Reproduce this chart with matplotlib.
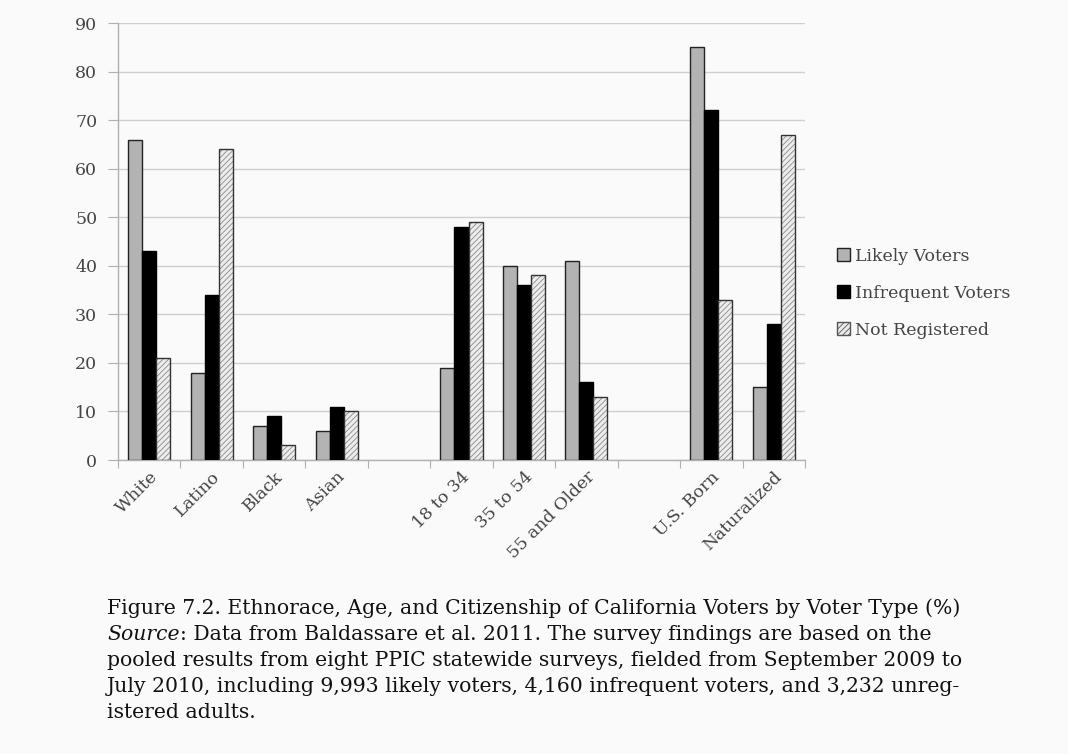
import matplotlib
matplotlib.use("Agg")
import matplotlib.pyplot as plt
import numpy as np
from matplotlib.patches import Patch

categories = ["White", "Latino", "Black", "Asian", "", "18 to 34", "35 to 54",
              "55 and Older", "", "U.S. Born", "Naturalized"]
likely = [66, 18, 7, 6, np.nan, 19, 40, 41, np.nan, 85, 15]
infrequent = [43, 34, 9, 11, np.nan, 48, 36, 16, np.nan, 72, 28]
not_registered = [21, 64, 3, 10, np.nan, 49, 38, 13, np.nan, 33, 67]
series_names = ["Likely Voters", "Infrequent Voters", "Not Registered"]
y_ticks = list(range(0, 91, 10))

caption_first = "Figure 7.2. Ethnorace, Age, and Citizenship of California Voters by Voter Type (%)"
caption_source_word = "Source"
caption_source_rest = ": Data from Baldassare et al. 2011. The survey findings are based on the"
caption_rest = [
    "pooled results from eight PPIC statewide surveys, fielded from September 2009 to",
    "July 2010, including 9,993 likely voters, 4,160 infrequent voters, and 3,232 unreg-",
    "istered adults.",
]

plt.rcParams['font.family'] = ['DejaVu Serif']
plt.rcParams['hatch.linewidth'] = 0.6

bg = '#fafafa'
fig = plt.figure(figsize=(10.68, 7.54), dpi=100, facecolor=bg)
ax = fig.add_axes([118/1068, 1 - 460/754, (805-118)/1068, (460-23)/754])
ax.set_facecolor(bg)

x = np.arange(len(categories))
w = 0.225
ax.bar(x - w, likely, w, color='#b3b3b3', edgecolor='#222222', linewidth=1.0, zorder=3)
ax.bar(x, infrequent, w, color='#000000', edgecolor='#000000', linewidth=1.0, zorder=3)
ax.bar(x + w, not_registered, w, color='#ececec', edgecolor='#8a8a8a', linewidth=0,
       hatch='//////', zorder=3)
ax.bar(x + w, not_registered, w, facecolor='none', edgecolor='#333333', linewidth=1.0,
       zorder=4)

ax.set_xlim(-0.5, len(categories) - 0.5)
ax.set_ylim(0, 90)
ax.set_yticks(y_ticks)
ax.set_yticklabels([str(v) for v in y_ticks], fontsize=12.5, color='#444444')
ax.grid(axis='y', color='#cfcfcf', linewidth=1.0, zorder=0)
ax.set_axisbelow(True)

for s in ['top', 'right']:
    ax.spines[s].set_visible(False)
for s in ['left', 'bottom']:
    ax.spines[s].set_color('#b0b0b0')
    ax.spines[s].set_linewidth(1.0)

ax.tick_params(axis='y', direction='out', length=7, color='#b0b0b0', pad=8)
ax.set_xticks(np.arange(-0.5, len(categories), 1.0))
ax.set_xticklabels([])
ax.tick_params(axis='x', which='major', direction='out', length=6, color='#b0b0b0')
ax.set_xticks(x, minor=True)
ax.set_xticklabels(categories, minor=True, rotation=45, ha='right', rotation_mode='anchor',
                   fontsize=12.5, color='#444444')
ax.tick_params(axis='x', which='minor', length=0, pad=6)

handles = [
    Patch(facecolor='#b3b3b3', edgecolor='#222222', linewidth=1.0),
    Patch(facecolor='#000000', edgecolor='#000000', linewidth=1.0),
    Patch(facecolor='#ececec', edgecolor='#555555', linewidth=1.0, hatch='//////'),
]
fig.legend(handles, series_names, loc='upper left', bbox_to_anchor=(821/1068, 1 - 232/754),
           frameon=False, fontsize=12.5, handlelength=0.75, handleheight=0.75,
           handletextpad=0.3, labelspacing=1.15, labelcolor='#444444')

# caption
ys = [608, 634, 660, 686, 712]
fs = 14.7
x0 = 107/1068
fig.text(x0, 1 - ys[0]/754, caption_first, fontsize=fs, va='center', color='#111111')
t1 = fig.text(x0, 1 - ys[1]/754, caption_source_word, fontsize=fs, style='italic',
              va='center', color='#111111')
fig.canvas.draw()
bb = t1.get_window_extent()
fig.text(bb.x1 / fig.bbox.width, 1 - ys[1]/754, caption_source_rest,
         fontsize=fs, va='center', color='#111111')
for i, line in enumerate(caption_rest):
    fig.text(x0, 1 - ys[i + 2]/754, line, fontsize=fs, va='center', color='#111111')

fig.savefig('out.png', dpi=100, facecolor=bg)
